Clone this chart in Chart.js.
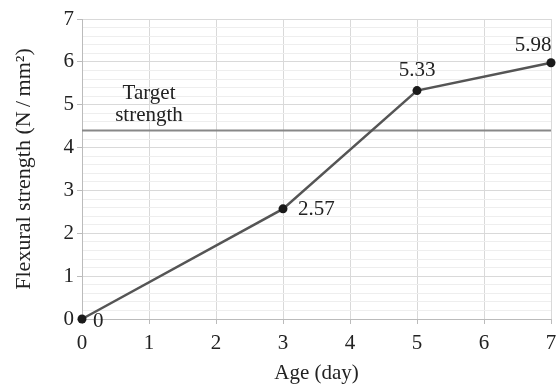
<!DOCTYPE html>
<html>
<head>
<meta charset="utf-8">
<script src="https://cdn.jsdelivr.net/npm/chart.js@4"></script>
<style>
  html, body { margin: 0; padding: 0; background: #fff; }
  #wrap { width: 558px; height: 387px; }
</style>
</head>
<body>
<div id="wrap"><canvas id="chart" width="558" height="387"></canvas></div>
<script>
const ages = [0, 3, 5, 7];
const strengths = [0, 2.57, 5.33, 5.98];
const pointLabels = ['0', '2.57', '5.33', '5.98'];
const targetStrength = 4.4;
const targetText = ['Target', 'strength'];

const serif = "'Liberation Serif', 'DejaVu Serif', serif";

function isMajor(v) {
  return Math.abs(v - Math.round(v)) < 1e-6;
}

// labels next to the points + target text
const labelPlugin = {
  id: 'labels',
  afterDatasetsDraw(chart) {
    const c = chart.ctx;
    const pts = chart.getDatasetMeta(0).data;
    const offsets = [[11, 2, 'left'], [15, 1, 'left'], [0, -20, 'center'], [-18, -17, 'center']];
    c.save();
    c.font = '21px ' + serif;
    c.fillStyle = '#222';
    c.textBaseline = 'middle';
    pts.forEach((p, i) => {
      c.textAlign = offsets[i][2];
      c.fillText(pointLabels[i], p.x + offsets[i][0], p.y + offsets[i][1]);
    });
    const xs = chart.scales.x, ys = chart.scales.y;
    c.textAlign = 'center';
    c.fillText(targetText[0], xs.getPixelForValue(1), ys.getPixelForValue(targetStrength) - 37);
    c.fillText(targetText[1], xs.getPixelForValue(1), ys.getPixelForValue(targetStrength) - 15);
    c.restore();
  }
};

new Chart(document.getElementById('chart'), {
  type: 'line',
  data: {
    datasets: [
      {
        data: ages.map((a, i) => ({ x: a, y: strengths[i] })),
        borderColor: '#555',
        borderWidth: 2.5,
        pointRadius: 4.5,
        pointBorderWidth: 0,
        pointBackgroundColor: '#1a1a1a',
        tension: 0,
        clip: false
      },
      {
        data: [{ x: 0, y: targetStrength }, { x: 7, y: targetStrength }],
        borderColor: '#888',
        borderWidth: 2,
        pointRadius: 0
      }
    ]
  },
  options: {
    responsive: false,
    animation: false,
    layout: { padding: { top: 19, right: 7, left: 0, bottom: 0 } },
    plugins: { legend: { display: false }, tooltip: { enabled: false } },
    scales: {
      x: {
        type: 'linear',
        min: 0, max: 7,
        ticks: { stepSize: 1, color: '#222', font: { family: serif, size: 21 }, padding: 7, maxRotation: 0 },
        grid: { color: '#d9d9d9', tickColor: '#bbb', tickLength: 5 },
        border: { color: '#bbb' },
        title: { display: true, text: 'Age (day)', color: '#222', font: { family: serif, size: 21 }, padding: { top: 0, bottom: 1 } },
        afterFit(s) {
          s.height = 387 - 319;
          s.paddingLeft = 0;
          s.paddingRight = 0;
        }
      },
      y: {
        min: 0, max: 7,
        ticks: {
          stepSize: 0.2, autoSkip: false, color: '#222',
          font: { family: serif, size: 21 }, padding: 3,
          callback: v => isMajor(v) ? String(Math.round(v)) : ''
        },
        grid: {
          color: c => isMajor(c.tick.value) ? '#d9d9d9' : '#eeeeee',
          tickColor: c => isMajor(c.tick.value) ? '#bbb' : 'rgba(0,0,0,0)',
          tickLength: 5
        },
        border: { color: '#bbb' },
        title: { display: true, text: 'Flexural strength (N\u2009/\u2009mm\u00B2)', color: '#222', font: { family: serif, size: 22 }, padding: { top: 11, bottom: 0 } },
        afterFit(s) { s.width = 82; }
      }
    }
  },
  plugins: [labelPlugin]
});
</script>
</body>
</html>
